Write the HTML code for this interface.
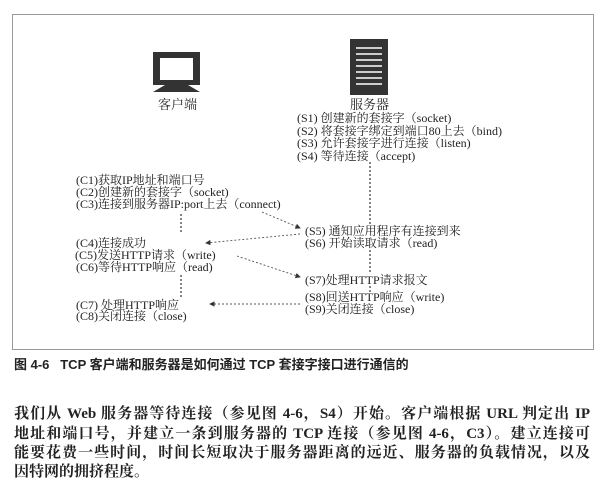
<!DOCTYPE html>
<html><head><meta charset="utf-8"><style>
body{margin:0;width:602px;height:486px;background:#fff;position:relative;overflow:hidden;font-family:"Liberation Serif","Noto Serif CJK SC",serif;color:#222}
.t{position:absolute;font-size:12px;line-height:12px;white-space:nowrap}
.box{position:absolute;left:12px;top:14px;width:580px;height:334px;border:1px solid #999}
.cap{position:absolute;left:14px;top:354px;font:bold 13px "Liberation Sans","Noto Sans CJK SC",sans-serif;color:#222}
.p{position:absolute;left:14px;width:576px;font-size:15px;line-height:19px;text-align:justify;text-align-last:justify;font-weight:bold;color:#222;white-space:nowrap}
</style></head><body>
<div class="box"></div>
<svg width="602" height="486" style="position:absolute;left:0;top:0">
<defs><marker id="a" markerWidth="6" markerHeight="6" refX="5" refY="3" orient="auto"><path d="M0,0 L6,3 L0,6z" fill="#333"/></marker></defs>
<rect x="153" y="52" width="47" height="33" fill="#333"/>
<rect x="160" y="58" width="33" height="22" fill="#fff"/>
<path d="M165,85 h23 l12,7 h-47z" fill="#333"/>
<rect x="350" y="39" width="38" height="56" fill="#333"/>
<g stroke="#fff" stroke-width="1.5">
<line x1="356" y1="48" x2="382" y2="48"/><line x1="356" y1="54" x2="382" y2="54"/><line x1="356" y1="60" x2="382" y2="60"/><line x1="356" y1="66" x2="382" y2="66"/><line x1="356" y1="72" x2="382" y2="72"/><line x1="356" y1="78" x2="382" y2="78"/><line x1="356" y1="84" x2="382" y2="84"/></g>
<g stroke="#333" stroke-width="1.2" stroke-dasharray="2,2" fill="none">
<line x1="370" y1="162" x2="370" y2="226"/>
<line x1="370" y1="250" x2="370" y2="273"/>
<line x1="370" y1="286" x2="370" y2="292"/>
<line x1="181" y1="214" x2="181" y2="233"/>
<line x1="181" y1="275" x2="181" y2="297"/>
</g>
<g stroke="#555" stroke-width="0.9" stroke-dasharray="2,2" fill="none" marker-end="url(#a)">
<line x1="262" y1="212" x2="300" y2="228"/>
<line x1="300" y1="234" x2="206" y2="243"/>
<line x1="237" y1="256" x2="300" y2="277"/>
<line x1="300" y1="304" x2="210" y2="304"/>
</g>
</svg>
<div class="t" style="left:158px;top:99px;font-size:13px">客户端</div>
<div class="t" style="left:350px;top:99px;font-size:13px">服务器</div>
<div class="t" style="left:297px;top:112px">(S1) 创建新的套接字（socket)</div>
<div class="t" style="left:297px;top:125px">(S2) 将套接字绑定到端口80上去（bind)</div>
<div class="t" style="left:297px;top:137px">(S3) 允许套接字进行连接（listen)</div>
<div class="t" style="left:297px;top:150px">(S4) 等待连接（accept)</div>
<div class="t" style="left:76px;top:174px">(C1)获取IP地址和端口号</div>
<div class="t" style="left:76px;top:186px">(C2)创建新的套接字（socket)</div>
<div class="t" style="left:76px;top:198px">(C3)连接到服务器IP:port上去（connect)</div>
<div class="t" style="left:76px;top:237px">(C4)连接成功</div>
<div class="t" style="left:75px;top:249px">(C5)发送HTTP请求（write)</div>
<div class="t" style="left:76px;top:261px">(C6)等待HTTP响应（read)</div>
<div class="t" style="left:76px;top:299px">(C7) 处理HTTP响应</div>
<div class="t" style="left:76px;top:310px">(C8)关闭连接（close)</div>
<div class="t" style="left:305px;top:225px">(S5) 通知应用程序有连接到来</div>
<div class="t" style="left:305px;top:237px">(S6) 开始读取请求（read)</div>
<div class="t" style="left:305px;top:274px">(S7)处理HTTP请求报文</div>
<div class="t" style="left:305px;top:291px">(S8)回送HTTP响应（write)</div>
<div class="t" style="left:305px;top:303px">(S9)关闭连接（close)</div>
<div class="cap">图 4-6&nbsp;&nbsp; TCP 客户端和服务器是如何通过 TCP 套接字接口进行通信的</div>
<div class="p" style="top:405px">我们从 Web 服务器等待连接（参见图 4-6，S4）开始。客户端根据 URL 判定出 IP</div>
<div class="p" style="top:425px">地址和端口号，并建立一条到服务器的 TCP 连接（参见图 4-6，C3）。建立连接可</div>
<div class="p" style="top:444px">能要花费一些时间，时间长短取决于服务器距离的远近、服务器的负载情况，以及</div>
<div class="p" style="top:463px;text-align-last:left">因特网的拥挤程度。</div>
</body></html>
